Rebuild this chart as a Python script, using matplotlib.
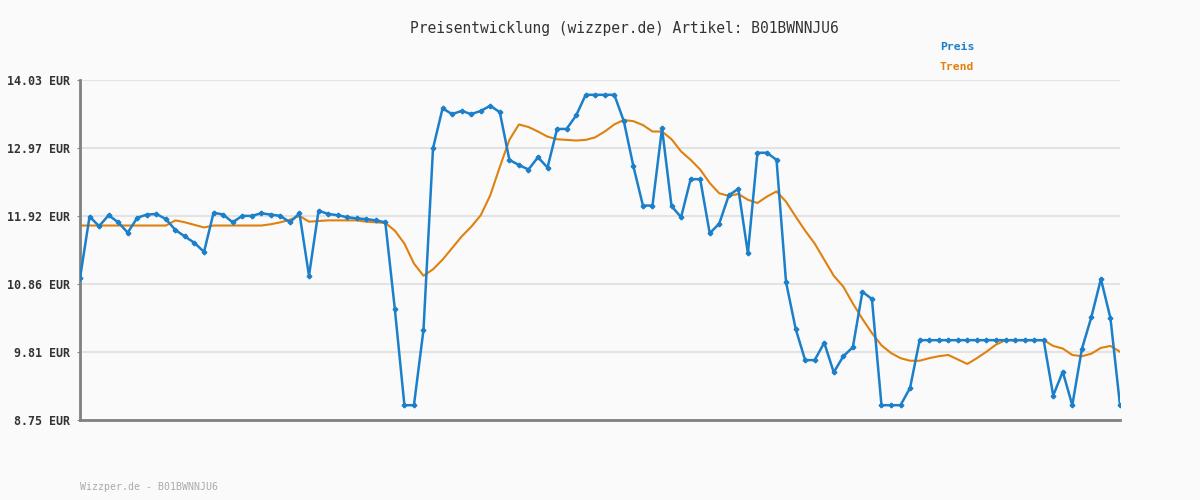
import matplotlib
matplotlib.use("Agg")
import matplotlib.pyplot as plt

# Price history (EUR), one value per sample
preis = [10.95, 11.91, 11.76, 11.93, 11.82, 11.66, 11.89, 11.94, 11.95, 11.87,
         11.70, 11.60, 11.50, 11.36, 11.97, 11.94, 11.82, 11.92, 11.92, 11.96,
         11.94, 11.92, 11.82, 11.96, 10.99, 12.00, 11.95, 11.93, 11.90, 11.88,
         11.87, 11.85, 11.82, 10.47, 8.98, 8.98, 10.15, 12.97, 13.59, 13.50,
         13.55, 13.50, 13.55, 13.63, 13.53, 12.79, 12.71, 12.64, 12.83, 12.67,
         13.27, 13.27, 13.48, 13.80, 13.80, 13.80, 13.80, 13.39, 12.69, 12.08,
         12.08, 13.28, 12.07, 11.90, 12.49, 12.49, 11.65, 11.80, 12.24, 12.34,
         11.34, 12.90, 12.90, 12.79, 10.89, 10.17, 9.68, 9.68, 9.95, 9.49,
         9.74, 9.88, 10.74, 10.63, 8.98, 8.98, 8.98, 9.25, 9.99, 9.99,
         9.99, 9.99, 9.99, 9.99, 9.99, 9.99, 9.99, 9.99, 9.99, 9.99,
         9.99, 9.99, 9.13, 9.50, 8.98, 9.85, 10.35, 10.94, 10.33, 8.98]

trend = [11.77, 11.77, 11.77, 11.77, 11.77, 11.77, 11.77, 11.77, 11.77, 11.77,
         11.85, 11.82, 11.78, 11.74, 11.77, 11.77, 11.77, 11.77, 11.77, 11.77,
         11.79, 11.82, 11.86, 11.92, 11.83, 11.84, 11.85, 11.85, 11.85, 11.85,
         11.83, 11.82, 11.81, 11.69, 11.49, 11.18, 10.99, 11.09, 11.24, 11.42,
         11.60, 11.75, 11.93, 12.24, 12.68, 13.10, 13.34, 13.30, 13.23, 13.15,
         13.11, 13.10, 13.09, 13.10, 13.14, 13.23, 13.34, 13.41, 13.39, 13.33,
         13.23, 13.23, 13.11, 12.92, 12.79, 12.64, 12.43, 12.27, 12.23, 12.26,
         12.17, 12.12, 12.22, 12.30, 12.14, 11.91, 11.69, 11.49, 11.24, 10.99,
         10.82, 10.56, 10.32, 10.10, 9.91, 9.79, 9.71, 9.67, 9.67, 9.71,
         9.74, 9.76, 9.69, 9.62, 9.71, 9.81, 9.92, 9.99, 9.99, 9.99,
         9.99, 9.99, 9.90, 9.86, 9.76, 9.74, 9.78, 9.87, 9.90, 9.81]

y_ticks = [8.75, 9.81, 10.86, 11.92, 12.97, 14.03]
y_labels = [f"{v:.2f} EUR" for v in y_ticks]

title = "Preisentwicklung (wizzper.de) Artikel: B01BWNNJU6"
footer = "Wizzper.de - B01BWNNJU6"

blue = "#1b7fc9"
orange = "#e0800f"
bg = "#fafafa"

fig = plt.figure(figsize=(12, 5), dpi=100, facecolor=bg)
ax = fig.add_axes([80 / 1200, 80 / 500, 1040 / 1200, 340 / 500], facecolor=bg)

x = list(range(len(preis)))
ax.plot(x, trend, color=orange, lw=1.5, zorder=2)
ax.plot(x, preis, color=blue, lw=1.8, marker="P", ms=3, zorder=3)

ax.set_xlim(0, len(preis) - 1)
ax.set_ylim(y_ticks[0], y_ticks[-1])
ax.set_yticks(y_ticks)
ax.set_yticklabels(y_labels, family="DejaVu Sans Mono", fontsize=8.4,
                   fontweight="bold", color="#333333")
ax.set_xticks([])
ax.tick_params(axis="y", length=2, color="#888888", pad=5)
ax.grid(axis="y", color="#e3e3e3", lw=1.5, zorder=0)

for side in ["top", "right"]:
    ax.spines[side].set_visible(False)
for side in ["left", "bottom"]:
    ax.spines[side].set_color("#808080")
    ax.spines[side].set_linewidth(2)

fig.text(624 / 1200, 1 - 28 / 500, title, family="DejaVu Sans Mono",
         fontsize=10.5, color="#333333", ha="center", va="center")
fig.text(940 / 1200, 1 - 47 / 500, "Preis", family="DejaVu Sans Mono",
         fontsize=8.2, fontweight="bold", color=blue, va="center")
fig.text(940 / 1200, 1 - 67 / 500, "Trend", family="DejaVu Sans Mono",
         fontsize=8.2, fontweight="bold", color=orange, va="center")
fig.text(80 / 1200, 1 - 487 / 500, footer, family="DejaVu Sans Mono",
         fontsize=7.1, color="#aaaaaa", va="center")

fig.savefig("out.png", dpi=100, facecolor=bg)
